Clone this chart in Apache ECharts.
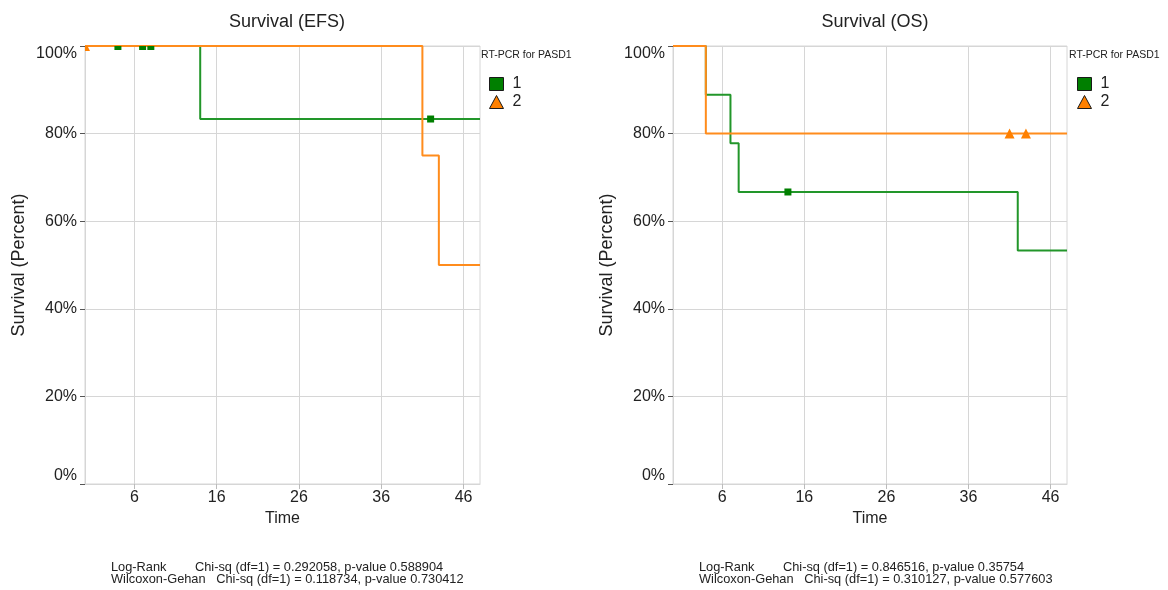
<!DOCTYPE html>
<html>
<head>
<meta charset="utf-8">
<title>Survival (EFS / OS)</title>
<script src="https://cdn.jsdelivr.net/npm/echarts@6/dist/echarts.min.js"></script>
<style>
  html, body { margin: 0; padding: 0; background: #fff; }
  #chart { width: 1168px; height: 590px; }
</style>
</head>
<body>
<div id="chart"></div>
<script>
// Kaplan-Meier step curves: event times and survival (%) after each step
const efsTime1 = [0, 14, 48];
const efsSurv1 = [100, 83.33, 83.33];
const efsTime2 = [0, 41, 43, 48];
const efsSurv2 = [100, 75, 50, 50];
// censored observations
const efsCensorTime1 = [4, 7, 8, 42];
const efsCensorSurv1 = [100, 100, 100, 83.33];
const efsCensorTime2 = [0];
const efsCensorSurv2 = [100];

const osTime1 = [0, 4, 7, 8, 42, 48];
const osSurv1 = [100, 88.89, 77.78, 66.67, 53.33, 53.33];
const osTime2 = [0, 4, 48];
const osSurv2 = [100, 80, 80];
const osCensorTime1 = [14];
const osCensorSurv1 = [66.67];
const osCensorTime2 = [41, 43];
const osCensorSurv2 = [80, 80];

// axis ticks
const timeTicks = [6, 16, 26, 36, 46];
const survTicks = [0, 20, 40, 60, 80, 100];
const timeMin = 0;
const timeMax = 48;

const groupNames = ['1', '2'];
const legendTitle = 'RT-PCR for PASD1';
const panelTitles = ['Survival (EFS)', 'Survival (OS)'];
const efsStats = [
  'Log-Rank        Chi-sq (df=1) = 0.292058, p-value 0.588904',
  'Wilcoxon-Gehan   Chi-sq (df=1) = 0.118734, p-value 0.730412'
];
const osStats = [
  'Log-Rank        Chi-sq (df=1) = 0.846516, p-value 0.35754',
  'Wilcoxon-Gehan   Chi-sq (df=1) = 0.310127, p-value 0.577603'
];

const FONT = '"Liberation Sans", Arial, sans-serif';
const GREEN_LINE = '#22962a';
const GREEN_MARK = '#007f00';
const ORANGE_LINE = '#ff8c1c';
const ORANGE_MARK = '#ff8000';
const GRID_GRAY = '#d6d6d6';
const TEXT = '#222';

const survMax = survTicks[survTicks.length - 1];
const zip = (xs, ys) => xs.map((x, i) => [x, ys[i]]);

function stepSeries(name, idx, xs, ys, color) {
  return {
    name, type: 'line', step: 'end',
    xAxisIndex: idx, yAxisIndex: idx,
    data: zip(xs, ys),
    showSymbol: false, symbol: 'none',
    lineStyle: { color, width: 2 },
    itemStyle: { color },
    animation: false, z: 3
  };
}

// Censor marks sitting on the plot's top edge only show the part inside the frame.
function censorSeries(name, idx, xs, ys, symbol, size, color) {
  const data = zip(xs, ys).map(([x, y]) => {
    if (y < survMax) return { value: [x, y] };
    const half = Math.round(size / 2);
    if (x <= timeMin) {
      // corner point: only the lower-right quarter is inside
      return {
        value: [x, y],
        symbol: symbol === 'triangle' ? 'path://M0,0 L2,0 L4,4 L0,4 Z' : 'rect',
        symbolSize: [half, half], symbolOffset: [half / 2, half / 2]
      };
    }
    return {
      value: [x, y],
      symbol: symbol === 'triangle' ? 'path://M1,0 L3,0 L4,2 L0,2 Z' : 'rect',
      symbolSize: [size, half], symbolOffset: [0, half / 2]
    };
  });
  return {
    name, type: 'scatter',
    xAxisIndex: idx, yAxisIndex: idx,
    data,
    symbol, symbolSize: size,
    itemStyle: { color, opacity: 1 },
    animation: false, z: 4
  };
}

function xAxisFor(idx) {
  return {
    type: 'value', gridIndex: idx, min: timeMin, max: timeMax,
    name: 'Time', nameLocation: 'middle', nameGap: 21,
    nameTextStyle: { fontSize: 16, color: TEXT, fontFamily: FONT },
    axisLine: { show: true, lineStyle: { color: GRID_GRAY } },
    axisTick: { show: true, length: 5, customValues: timeTicks, lineStyle: { color: '#bbb' } },
    axisLabel: { customValues: timeTicks, fontSize: 16, color: TEXT, fontFamily: FONT, margin: 6 },
    splitLine: { show: true, lineStyle: { color: GRID_GRAY, width: 1 } }
  };
}
function yAxisFor(idx) {
  return {
    type: 'value', gridIndex: idx, min: survTicks[0], max: survMax, interval: 20,
    name: 'Survival (Percent)', nameLocation: 'middle', nameGap: 57,
    nameTextStyle: { fontSize: 18, color: TEXT, fontFamily: FONT },
    axisLine: { show: true, lineStyle: { color: GRID_GRAY } },
    axisTick: { show: true, length: 5, lineStyle: { color: '#555' } },
    axisLabel: {
      formatter: '{value}%', fontSize: 16, color: TEXT, fontFamily: FONT, margin: 8,
      verticalAlignMinLabel: 'bottom', verticalAlignMaxLabel: 'top'
    },
    splitLine: { show: true, lineStyle: { color: GRID_GRAY, width: 1 } }
  };
}

function legendFor(left, top) {
  return {
    orient: 'vertical', left, top,
    itemWidth: 14, itemHeight: 13, itemGap: 2,
    textStyle: { fontSize: 16, color: TEXT, fontFamily: FONT, padding: [0, 0, 0, 4] },
    selectedMode: false,
    data: [
      { name: groupNames[0], icon: 'rect', itemStyle: { color: GREEN_MARK, borderColor: '#1a1a1a', borderWidth: 1 } },
      { name: groupNames[1], icon: 'triangle', itemStyle: { color: ORANGE_MARK, borderColor: '#1a1a1a', borderWidth: 1 } }
    ]
  };
}

const statStyle = { fontSize: 12.8, lineHeight: 12, fontWeight: 'normal', color: TEXT, fontFamily: FONT };
const titleStyle = { fontSize: 18, fontWeight: 'normal', color: TEXT, fontFamily: FONT };
const legendTitleStyle = { fontSize: 10.5, fontWeight: 'normal', color: TEXT, fontFamily: FONT };

const chart = echarts.init(document.getElementById('chart'), null, { renderer: 'canvas' });

chart.setOption({
  backgroundColor: '#fff',
  animation: false,
  textStyle: { fontFamily: FONT },
  title: [
    { text: panelTitles[0], left: 282, top: 8, textAlign: 'center', textStyle: titleStyle },
    { text: panelTitles[1], left: 870, top: 8, textAlign: 'center', textStyle: titleStyle },
    { text: legendTitle, left: 481, top: 50, padding: 0, textStyle: legendTitleStyle },
    { text: legendTitle, left: 1069, top: 50, padding: 0, textStyle: legendTitleStyle },
    { text: efsStats.join('\n'), left: 111, top: 561, padding: 0, textStyle: statStyle },
    { text: osStats.join('\n'), left: 699, top: 561, padding: 0, textStyle: statStyle }
  ],
  legend: [legendFor(484, 71), legendFor(1072, 71)],
  grid: [
    { left: 85, right: 688, top: 46, bottom: 106, show: true, borderColor: GRID_GRAY, borderWidth: 1, containLabel: false },
    { left: 673, right: 101, top: 46, bottom: 106, show: true, borderColor: GRID_GRAY, borderWidth: 1, containLabel: false }
  ],
  xAxis: [xAxisFor(0), xAxisFor(1)],
  yAxis: [yAxisFor(0), yAxisFor(1)],
  series: [
    stepSeries(groupNames[0], 0, efsTime1, efsSurv1, GREEN_LINE),
    stepSeries(groupNames[1], 0, efsTime2, efsSurv2, ORANGE_LINE),
    censorSeries(groupNames[0], 0, efsCensorTime1, efsCensorSurv1, 'rect', 7, GREEN_MARK),
    censorSeries(groupNames[1], 0, efsCensorTime2, efsCensorSurv2, 'triangle', 9, ORANGE_MARK),

    stepSeries(groupNames[0], 1, osTime1, osSurv1, GREEN_LINE),
    stepSeries(groupNames[1], 1, osTime2, osSurv2, ORANGE_LINE),
    censorSeries(groupNames[0], 1, osCensorTime1, osCensorSurv1, 'rect', 7, GREEN_MARK),
    censorSeries(groupNames[1], 1, osCensorTime2, osCensorSurv2, 'triangle', 10, ORANGE_MARK)
  ]
});
</script>
</body>
</html>
